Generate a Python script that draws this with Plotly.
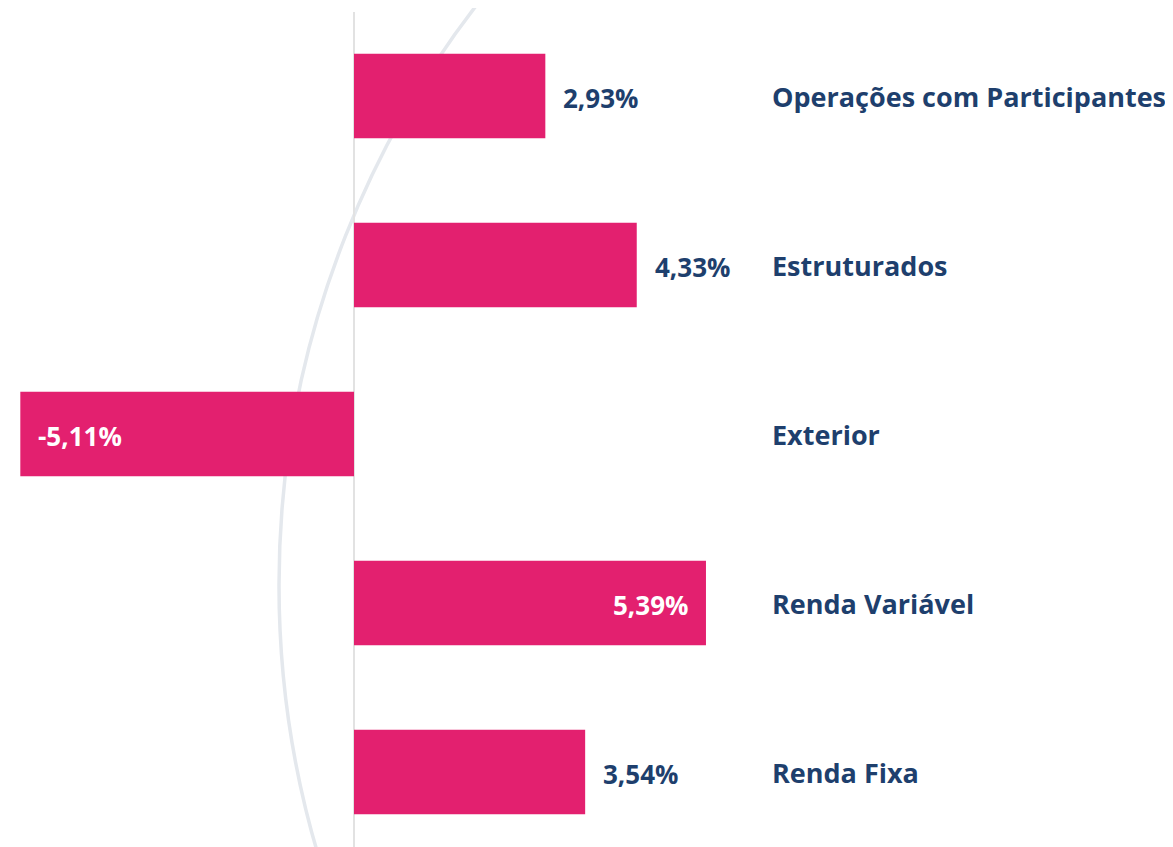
import plotly.graph_objects as go

categories = ["Operações com Participantes", "Estruturados", "Exterior", "Renda Variável", "Renda Fixa"]
values = [2.93, 4.33, -5.11, 5.39, 3.54]
label_inside = [False, False, True, True, False]

W, H = 1173, 847
OFF = 8  # page body margin offset
PINK = "#E3206F"
NAVY = "#1E3F6D"
FONT = "Open Sans"

fig = go.Figure()
fig.add_trace(go.Bar(
    x=values, y=categories, orientation="h",
    marker=dict(color=PINK, line=dict(width=0)),
    width=0.5, hoverinfo="skip", showlegend=False,
))

ann = []
for cat, v, ins in zip(categories, values, label_inside):
    txt = f"{v:.2f}".replace(".", ",") + "%"
    if ins:
        xa, xs = ("right", -16) if v >= 0 else ("left", 16)
        col = "white"
    else:
        xa, xs = ("left", 16) if v >= 0 else ("right", -16)
        col = NAVY
    ann.append(dict(x=v, y=cat, xref="x", yref="y", text=f"<b>{txt}</b>",
                    showarrow=False, xanchor=xa, xshift=xs, yshift=-2,
                    font=dict(family=FONT, size=26, color=col)))
    ann.append(dict(x=(770 - OFF) / W, y=cat, xref="paper", yref="y", text=f"<b>{cat}</b>",
                    showarrow=False, xanchor="left", yshift=0,
                    font=dict(family=FONT, size=27, color=NAVY)))

cx, cy, R = 1228 - OFF, 585 - OFF, 949
shapes = [
    dict(type="circle", xref="paper", yref="paper", layer="below",
         x0=(cx - R) / W, x1=(cx + R) / W,
         y0=1 - (cy + R) / H, y1=1 - (cy - R) / H,
         line=dict(color="#E4E8ED", width=3.5)),
    dict(type="line", xref="x", yref="paper", layer="below",
         x0=0, x1=0, y0=0, y1=1 - (12 - OFF) / H,
         line=dict(color="#E2E2E2", width=2)),
]

px_per_unit = 65.3
zero_px = 354 - OFF
x_range = [-zero_px / px_per_unit, (W - zero_px) / px_per_unit]
row_px, first_px = 169, 96 - OFF
y_range = [(H - first_px) / row_px, -first_px / row_px]

fig.update_layout(
    width=W, height=H,
    margin=dict(l=0, r=0, t=0, b=0),
    paper_bgcolor="white", plot_bgcolor="white",
    xaxis=dict(range=x_range, showgrid=False, zeroline=False, showticklabels=False,
               fixedrange=True, domain=[0, 1]),
    yaxis=dict(range=y_range, showgrid=False, zeroline=False, showticklabels=False,
               type="category", categoryorder="array", categoryarray=categories,
               fixedrange=True, domain=[0, 1]),
    annotations=ann, shapes=shapes, bargap=0.5,
)

fig.write_html("out.html")
